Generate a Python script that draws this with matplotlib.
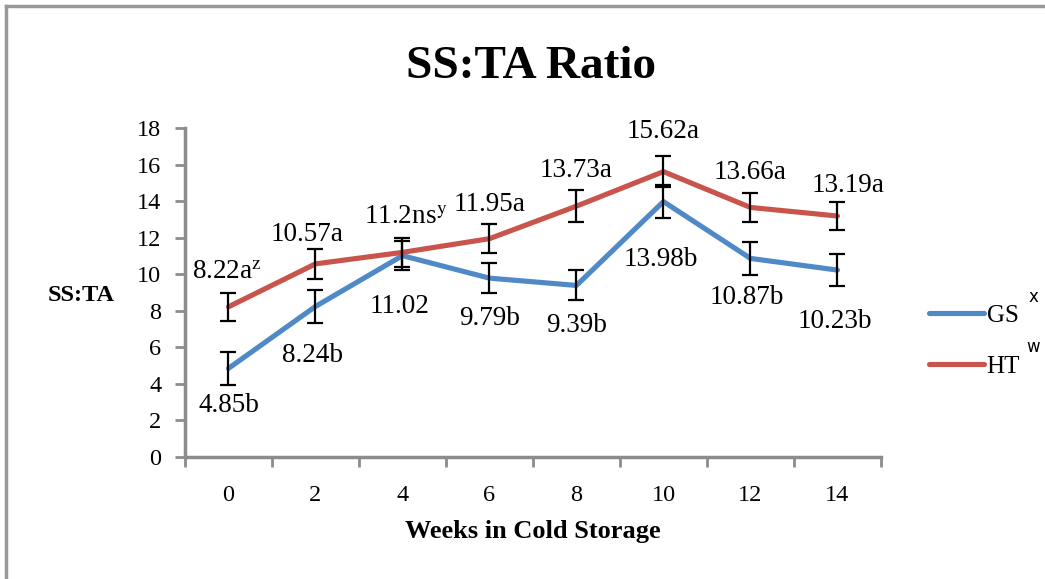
import matplotlib.pyplot as plt
from matplotlib.lines import Line2D

plt.rcParams['font.family'] = ['Liberation Serif', 'DejaVu Serif']
plt.rcParams['mathtext.fontset'] = 'stix'

weeks = [0, 2, 4, 6, 8, 10, 12, 14]
gs = [4.85, 8.24, 11.02, 9.79, 9.39, 13.98, 10.87, 10.23]
ht = [8.22, 10.57, 11.2, 11.95, 13.73, 15.62, 13.66, 13.19]
gs_err = [0.9, 0.92, 0.8, 0.82, 0.82, 0.9, 0.9, 0.88]
ht_err = [0.78, 0.8, 0.8, 0.8, 0.87, 0.85, 0.8, 0.77]
gs_labels = ['4.85b', '8.24b', '11.02', '9.79b', '9.39b', '13.98b', '10.87b', '10.23b']
ht_labels = ['8.22a$^{\\mathrm{z}}$', '10.57a', '11.2ns$^{\\mathrm{y}}$', '11.95a',
             '13.73a', '15.62a', '13.66a', '13.19a']

# label placement (pixel offsets of the label centre from its point)
gs_lab_off = [(0, -37), (-3, -49), (-3, -51), (0, -40), (0, -40), (-3, -58), (-4, -39), (-3, -51)]
ht_lab_off = [(-2, 34), (-8, 29), (3, 35), (0, 34), (0, 36), (0, 40), (0, 35), (11, 31)]

gs_color = '#4f8ac6'
ht_color = '#c9544c'

fig = plt.figure(figsize=(10.45, 5.79), dpi=100)
ax = fig.add_axes([0.177, 0.2107, 0.666, 0.568])

x = list(range(len(weeks)))
ax.plot(x, gs, color=gs_color, linewidth=3.7, solid_capstyle='round', zorder=3)
ax.plot(x, ht, color=ht_color, linewidth=3.7, solid_capstyle='round', zorder=3)
ax.errorbar(x, gs, yerr=gs_err, fmt='none', ecolor='black', elinewidth=1.6,
            capsize=5.8, capthick=1.6, zorder=4)
ax.errorbar(x, ht, yerr=ht_err, fmt='none', ecolor='black', elinewidth=1.6,
            capsize=5.8, capthick=1.6, zorder=4)

for i in x:
    ax.annotate(ht_labels[i], (i, ht[i]), xytext=ht_lab_off[i],
                textcoords='offset pixels', ha='center', va='center', fontsize=19.5)
    ax.annotate(gs_labels[i], (i, gs[i]), xytext=gs_lab_off[i],
                textcoords='offset pixels', ha='center', va='center', fontsize=19.5)

ax.set_xlim(-0.5, len(weeks) - 0.5)
ax.set_ylim(0, 18)
ax.set_yticks(range(0, 19, 2))
ax.set_xticks(x)
ax.set_xticklabels([str(w) for w in weeks])
ax.set_xticks([i - 0.5 for i in range(len(weeks) + 1)], minor=True)
ax.tick_params(axis='x', which='major', length=0, pad=20, labelsize=17.5)
ax.tick_params(axis='x', which='minor', length=7, width=2, color='#8c8c8c', direction='out')
ax.tick_params(axis='y', length=7, width=2, color='#8c8c8c', labelsize=17.5, pad=10)

for s in ['top', 'right']:
    ax.spines[s].set_visible(False)
for s in ['left', 'bottom']:
    ax.spines[s].set_color('#8c8c8c')
    ax.spines[s].set_linewidth(2.5)

ax.set_xlabel('Weeks in Cold Storage', fontsize=19, fontweight='bold')
ax.xaxis.set_label_coords(0.5, -0.225)
ax.xaxis.label.set_va('center')
fig.text(0.046, 0.4905, 'SS:TA', fontsize=17.5, fontweight='bold', ha='left', va='center')
fig.text(0.508, 0.885, 'SS:TA Ratio', fontsize=34, fontweight='bold', ha='center', va='center')

# legend
handles = [Line2D([0], [0], color=gs_color, linewidth=3.7, solid_capstyle='round'),
           Line2D([0], [0], color=ht_color, linewidth=3.7, solid_capstyle='round')]
fig.legend(handles, ['GS', 'HT'], loc='center left', bbox_to_anchor=(0.889, 0.411),
           frameon=False, fontsize=18, handlelength=2.2, handletextpad=0.1,
           labelspacing=1.15, borderpad=0, borderaxespad=0)
fig.text(0.9885, 0.487, 'x', fontsize=12, ha='center', va='center', family='DejaVu Sans')
fig.text(0.9885, 0.401, 'w', fontsize=12, ha='center', va='center', family='DejaVu Sans')

# outer frame lines
fig.add_artist(Line2D([0.0057, 1.0], [0.9896, 0.9896], color='#999999', linewidth=2.5))
fig.add_artist(Line2D([0.0057, 0.0057], [0.0, 0.9896], color='#999999', linewidth=2.5))

fig.savefig('out.png', dpi=100, facecolor='white')
